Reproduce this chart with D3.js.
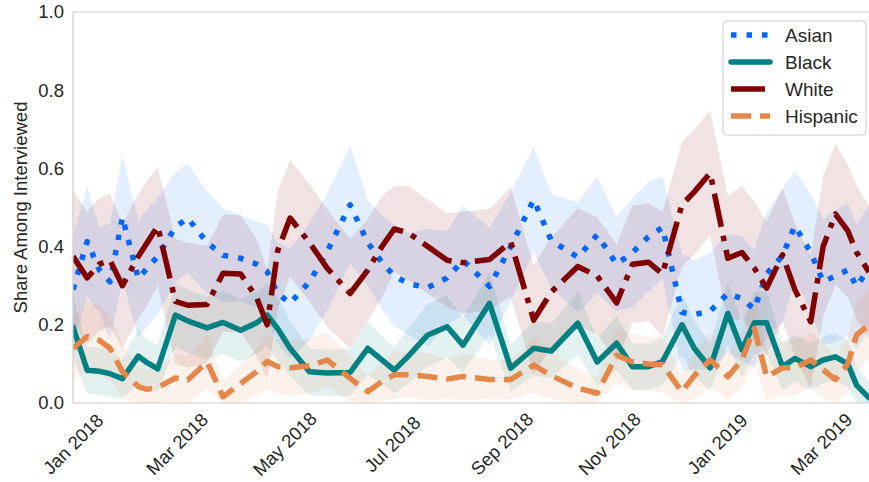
<!DOCTYPE html>
<html>
<head>
<meta charset="utf-8">
<script src="https://cdn.jsdelivr.net/npm/d3@7"></script>
<style>
  body { margin: 0; background: #fff; }
  svg { font-family: "Liberation Sans", Arial, sans-serif; }
</style>
</head>
<body>
<div id="chart"></div>
<script>
let width = 869, height = 482;
let margin = {top: 12, right: 0, bottom: 79, left: 73};

// survey dates
let dates = ["2018-01-01","2018-01-09","2018-01-16","2018-01-22","2018-01-29","2018-02-07","2018-02-12","2018-02-18",
  "2018-02-28","2018-03-07","2018-03-18","2018-03-27","2018-04-06","2018-04-15","2018-04-21","2018-04-27",
  "2018-05-04","2018-05-15","2018-05-25","2018-06-07","2018-06-17","2018-06-25","2018-07-02","2018-07-10",
  "2018-07-21","2018-08-01","2018-08-10","2018-08-25","2018-09-06","2018-09-19","2018-09-29","2018-10-14",
  "2018-10-25","2018-11-05","2018-11-14","2018-11-23","2018-12-01","2018-12-12","2018-12-19","2018-12-28",
  "2019-01-07","2019-01-15","2019-01-22","2019-01-29","2019-02-07","2019-02-14","2019-02-23","2019-03-02",
  "2019-03-09","2019-03-16","2019-03-21","2019-03-28"];

// share among interviewed, per group
let asian = [.29,.413,.34,.31,.475,.318,.345,.375,.45,.473,.41,.378,.37,.355,.336,.28,.255,.31,.387,.507,
  .41,.36,.325,.305,.295,.32,.365,.298,.40,.52,.415,.373,.43,.355,.385,.425,.449,.232,.226,.235,
  .28,.267,.24,.33,.377,.453,.385,.31,.325,.34,.298,.345];
let black = [.195,.084,.081,.075,.062,.12,.103,.087,.225,.21,.192,.206,.186,.205,.225,.19,.14,.08,.077,.078,
  .14,.11,.084,.12,.174,.195,.148,.255,.089,.14,.133,.204,.105,.153,.093,.093,.106,.20,.14,.09,
  .229,.136,.205,.205,.093,.114,.093,.11,.118,.10,.045,.013];
let white = [.375,.32,.355,.365,.30,.375,.41,.452,.26,.25,.252,.332,.33,.27,.20,.39,.473,.41,.345,.28,
  .34,.40,.445,.435,.40,.365,.359,.367,.412,.212,.284,.349,.325,.256,.355,.36,.33,.507,.54,.588,
  .37,.385,.345,.294,.379,.29,.208,.40,.483,.44,.385,.335];
let hispanic = [.14,.17,.16,.14,.08,.042,.035,.04,.064,.059,.105,.016,.05,.08,.106,.093,.09,.095,.11,.063,
  .029,.055,.072,.072,.068,.061,.068,.06,.06,.097,.07,.038,.025,.122,.105,.10,.098,.029,.07,.11,
  .067,.11,.191,.067,.09,.09,.11,.085,.06,.10,.174,.20];

// confidence band half widths
let asianCI = [.14,.14,.11,.15,.16,.15,.15,.15,.14,.14,.13,.12,.11,.11,.12,.13,.14,.15,.15,.15,
  .11,.12,.13,.13,.15,.12,.14,.15,.14,.135,.12,.14,.15,.12,.14,.14,.13,.15,.14,.15,
  .15,.16,.15,.16,.17,.14,.15,.16,.17,.17,.16,.16];
let blackCI = [.08,.06,.06,.06,.05,.07,.06,.06,.08,.08,.08,.08,.08,.08,.08,.08,.07,.06,.06,.06,
  .07,.06,.06,.07,.08,.08,.07,.08,.06,.07,.07,.08,.06,.07,.06,.06,.06,.08,.07,.06,
  .08,.07,.08,.08,.06,.06,.06,.06,.06,.06,.05,.04];
let whiteCI = [.17,.17,.17,.17,.16,.16,.16,.15,.16,.16,.15,.15,.15,.15,.14,.15,.15,.15,.15,.14,
  .13,.13,.11,.12,.12,.12,.13,.13,.14,.14,.14,.15,.15,.15,.15,.15,.16,.16,.16,.16,
  .16,.17,.17,.17,.17,.17,.17,.18,.18,.17,.17,.17];
let hispanicCI = [.08,.09,.09,.08,.07,.05,.05,.05,.06,.06,.07,.04,.05,.06,.07,.07,.07,.07,.07,.06,
  .04,.05,.06,.06,.06,.05,.06,.05,.05,.07,.06,.05,.04,.07,.07,.07,.07,.04,.06,.07,
  .06,.07,.09,.06,.07,.07,.07,.07,.06,.07,.09,.09];

let groups = ["Asian", "Black", "White", "Hispanic"];
let yTicks = [0, 0.2, 0.4, 0.6, 0.8, 1.0];
let xTickDates = ["2018-01-01","2018-03-01","2018-05-01","2018-07-01","2018-09-01","2018-11-01","2019-01-01","2019-03-01"];

let colors = {"Asian": "#0066ff", "Black": "#008080", "White": "#800000", "Hispanic": "#e6874a"};
let dashes = {"Asian": "5.5,10", "Black": null, "White": "34,9,5.5,9", "Hispanic": "20,9"};
let lineWidth = 5.5;
let textColor = "#262626";

let parse = d3.timeParse("%Y-%m-%d");
let series = [
  {name: "Asian", values: asian, ci: asianCI},
  {name: "Black", values: black, ci: blackCI},
  {name: "White", values: white, ci: whiteCI},
  {name: "Hispanic", values: hispanic, ci: hispanicCI}
].map(s => ({
  name: s.name,
  points: s.values.map((v, i) => ({date: parse(dates[i]), v: v, lo: Math.max(0, v - s.ci[i]), hi: v + s.ci[i]}))
}));

let plotW = width - margin.left - margin.right;
let plotH = height - margin.top - margin.bottom;

let xScale = d3.scaleTime()
  .domain([parse("2018-01-01"), parse("2019-03-28")])
  .range([0, plotW]);
let yScale = d3.scaleLinear().domain([0, 1]).range([plotH, 0]);

let svg = d3.select("#chart").append("svg")
  .attr("width", width).attr("height", height)
  .append("g")
  .attr("transform", "translate(" + margin.left + "," + margin.top + ")");

svg.append("clipPath").attr("id", "clip")
  .append("rect").attr("x", 0).attr("y", 0).attr("width", plotW).attr("height", plotH);

let plot = svg.append("g").attr("clip-path", "url(#clip)");

// bands underneath all lines
let area = d3.area()
  .x(d => xScale(d.date))
  .y0(d => yScale(d.lo))
  .y1(d => yScale(d.hi));

series.forEach(s => {
  plot.append("path")
    .datum(s.points)
    .attr("d", area)
    .attr("fill", colors[s.name])
    .attr("fill-opacity", 0.11)
    .attr("stroke", "none");
});

let line = d3.line()
  .x(d => xScale(d.date))
  .y(d => yScale(d.v));

series.forEach(s => {
  plot.append("path")
    .datum(s.points)
    .attr("d", line)
    .attr("fill", "none")
    .attr("stroke", colors[s.name])
    .attr("stroke-width", lineWidth)
    .attr("stroke-dasharray", dashes[s.name])
    .attr("stroke-linecap", s.name == "Black" ? "round" : "butt")
    .attr("stroke-linejoin", "round");
});

// spines
[[0, plotW, 0, 0], [0, plotW, plotH, plotH], [0, 0, 0, plotH]].forEach(c => {
  svg.append("line")
    .attr("x1", c[0]).attr("x2", c[1]).attr("y1", c[2]).attr("y2", c[3])
    .attr("stroke", "#cccccc").attr("stroke-width", 1.2);
});

// y axis
let yAxis = svg.append("g")
  .call(d3.axisLeft(yScale).tickValues(yTicks).tickFormat(d3.format(".1f")).tickSize(0).tickPadding(9));
yAxis.select(".domain").remove();
yAxis.selectAll("text")
  .style("font-size", "18.5px")
  .style("font-family", "Liberation Sans, Arial, sans-serif")
  .attr("fill", textColor);

// x axis, labels rotated 45 deg and centred on tick
let fmt = d3.timeFormat("%b %Y");
let xAxis = svg.append("g").attr("transform", "translate(0," + plotH + ")");
xTickDates.forEach(t => {
  let d = parse(t);
  xAxis.append("text")
    .attr("transform", "translate(" + xScale(d) + ",41) rotate(-45)")
    .attr("text-anchor", "middle")
    .attr("dy", "0.35em")
    .style("font-size", "18.5px")
    .attr("fill", textColor)
    .text(fmt(d));
});

// y label
svg.append("text")
  .attr("transform", "translate(" + (-46) + "," + (plotH / 2) + ") rotate(-90)")
  .attr("text-anchor", "middle")
  .style("font-size", "18.5px")
  .attr("fill", textColor)
  .text("Share Among Interviewed");

// legend
let legend = svg.append("g").attr("transform", "translate(650,9)");
legend.append("rect")
  .attr("width", 143).attr("height", 114).attr("rx", 4)
  .attr("fill", "#ffffff").attr("fill-opacity", 0.85)
  .attr("stroke", "#cccccc").attr("stroke-width", 1);
groups.forEach((g, i) => {
  let y = 14 + i * 27;
  legend.append("line")
    .attr("x1", 8).attr("x2", 47).attr("y1", y).attr("y2", y)
    .attr("stroke", colors[g])
    .attr("stroke-width", lineWidth)
    .attr("stroke-dasharray", dashes[g])
    .attr("stroke-linecap", g == "Black" ? "round" : "butt");
  legend.append("text")
    .attr("x", 62).attr("y", y)
    .attr("dy", "0.35em")
    .style("font-size", "19px")
    .attr("fill", textColor)
    .text(g);
});
</script>
</body>
</html>
